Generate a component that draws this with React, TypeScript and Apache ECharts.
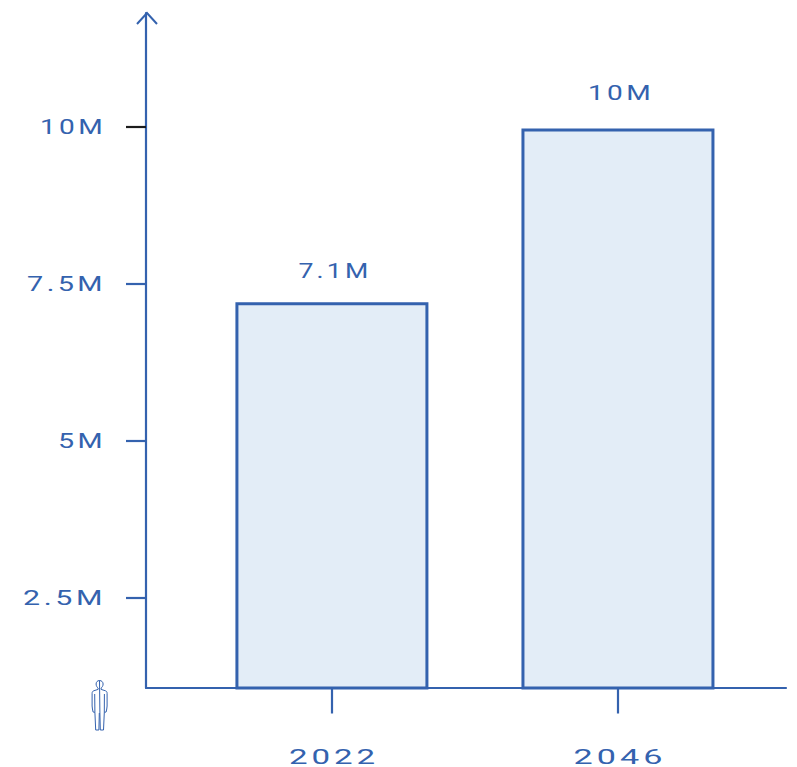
import React, { useEffect, useRef } from "react";
import * as echarts from "echarts";

const years = [2022, 2046];
const barValues = [7210000, 9980000];
const barLabels = ["7.1M", "10M"];
const blueTicks = [2500000, 5000000, 7500000];
const blackTicks = [10000000];
const yTickLabels = [2500000, 5000000, 7500000, 10000000];

const BLUE = "#3462AE";
const FILL = "#E3EDF7";
const FONT = "Roboto";
const textWidths: Record<string, number> = {
  "10M": 66,
  "7.5M": 79,
  "5M": 48,
  "2.5M": 83,
  "7.1M": 73,
  "2022": 90,
  "2046": 93,
};
const labelDistances = [21, 25];

const personPath =
  "M8 0.5 C5.8 0.5 4.6 2.2 4.6 4 C4.6 5.8 5.6 7.4 6.6 8 L6.6 9.4 L2.2 10.8 C1 11.2 0.6 12.2 0.6 13.4 L0.6 26 C0.6 28 1.2 30 1.6 32 L3.4 32.4 L4.2 50 L7.4 50 L7.8 33 M8.4 33 L8.8 50 L12 50 L12.8 32.4 L14.6 32 C15 30 15.6 28 15.6 26 L15.6 13.4 C15.6 12.2 15.2 11.2 14 10.8 L9.6 9.4 L9.6 8 C10.6 7.4 11.6 5.8 11.6 4 C11.6 2.2 10.2 0.5 8 0.5 Z M3.2 14 L3.4 32.4 M12.9 14 L12.8 32.4";

echarts.graphic.registerShape("person", echarts.graphic.extendPath(personPath, {}));

export default function App() {
  const ref = useRef<HTMLDivElement>(null);
  useEffect(() => {
    const chart = echarts.init(ref.current!, undefined, { renderer: "svg" });
    const textStyle = { color: BLUE, fontFamily: FONT, fontSize: 21, fontWeight: 400 as const };
    chart.setOption({
      animation: false,
      backgroundColor: "#ffffff",
      grid: { left: 146, right: 11, top: 13, bottom: 78 },
      xAxis: {
        type: "value",
        min: 2006.4,
        max: 2060.1,
        splitLine: { show: false },
        axisLine: { show: true, onZero: false, lineStyle: { color: BLUE, width: 2.2 } },
        axisTick: { show: true, customValues: years, length: 25.5, lineStyle: { color: BLUE, width: 2.2 } },
        axisLabel: {
          ...textStyle,
          customValues: years,
          margin: 58,
          align: "center",
          verticalAlign: "top",
          padding: [0, 0, 0, 4],
          formatter: (v: number) => String(v),
        },
      },
      yAxis: [
        {
          type: "value",
          min: 1060000,
          max: 11820000,
          position: "left",
          splitLine: { show: false },
          axisLine: { show: true, onZero: false, lineStyle: { color: BLUE, width: 2.2 } },
          axisTick: { show: true, customValues: blueTicks, length: 20, lineStyle: { color: BLUE, width: 2.2 } },
          axisLabel: {
            ...textStyle,
            customValues: yTickLabels,
            margin: 40,
            formatter: (v: number) => `${v / 1000000}M`,
          },
        },
        {
          type: "value",
          min: 1060000,
          max: 11820000,
          position: "left",
          splitLine: { show: false },
          axisLine: { show: false, onZero: false },
          axisTick: { show: true, customValues: blackTicks, length: 20, lineStyle: { color: "#1c1c1c", width: 2.2 } },
          axisLabel: { show: false },
        },
      ],
      series: [
        {
          type: "bar",
          barWidth: 193,
          data: years.map((y, i) => ({
            value: [y, barValues[i]],
            label: { distance: labelDistances[i] },
          })),
          itemStyle: { color: FILL, borderColor: BLUE, borderWidth: 3 },
          label: {
            show: true,
            position: "top",
            offset: [3, 0],
            ...textStyle,
            formatter: (p: any) => barLabels[p.dataIndex],
          },
        },
      ],
      graphic: [
        {
          type: "polyline",
          silent: true,
          z: 10,
          shape: { points: [[137, 24], [147, 13], [157, 24]] },
          style: { stroke: BLUE, lineWidth: 2, fill: "none" },
        },
        {
          type: "person",
          silent: true,
          x: 91.5,
          y: 680,
          style: { stroke: BLUE, lineWidth: 1, fill: "none" },
        },
      ],
    });
    // The reference face is an extended one: widen the glyphs of each real text.
    ref.current!.querySelectorAll("svg text").forEach((t) => {
      const w = textWidths[(t.textContent || "").trim()];
      if (w) {
        t.setAttribute("textLength", String(w));
        t.setAttribute("lengthAdjust", "spacingAndGlyphs");
      }
    });
    return () => chart.dispose();
  }, []);
  return (
    <>
      <style>{`body{margin:0} #cv svg text{letter-spacing:2.5px}`}</style>
      <div id="cv" ref={ref} style={{ position: "absolute", left: 0, top: 0, width: 797, height: 767 }} />
    </>
  );
}
